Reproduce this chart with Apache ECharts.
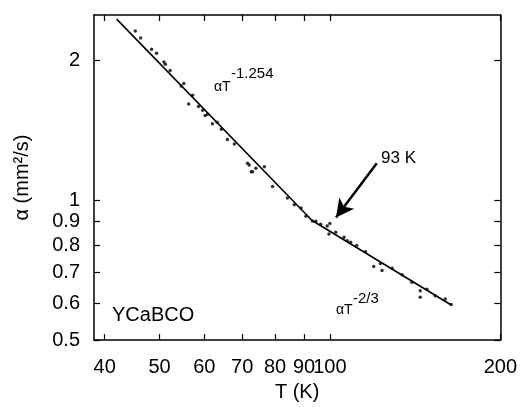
<!DOCTYPE html>
<html>
<head>
<meta charset="utf-8">
<script src="https://cdn.jsdelivr.net/npm/echarts@6/dist/echarts.min.js"></script>
<style>
  html, body { margin: 0; padding: 0; background: #fff; }
</style>
</head>
<body>
<div id="chart" style="width: 520px; height: 407px;"></div>
<script>
// tick values (log-log plot)
const xTicks = [40, 50, 60, 70, 80, 90, 100, 200];
const yTicks = [0.5, 0.6, 0.7, 0.8, 0.9, 1, 2];
const xRange = [38.3, 200];
const yRange = [0.5, 2.5];

// measured points, T (K) and diffusivity (mm2/s)
const tempK = [45.3, 46.3, 48.4, 49.4, 50.9, 51.2, 52.2, 54.6, 55.2, 56.3, 57.2, 58.6, 59.6, 60.2,
  60.8, 62.0, 63.2, 64.3, 65.9, 67.8, 71.5, 72.0, 72.6, 73.0, 74.0, 76.6, 79.2, 84.1, 86.5, 88.9,
  90.7, 93.1, 94.4, 96.3, 98.9, 99.6, 100.0, 102.4, 105.9, 107.3, 108.8, 111.5, 115.6, 119.5,
  122.8, 123.6, 128.8, 134.1, 139.6, 144.4, 144.4, 148.4, 153.5, 159.9, 163.8];
const alpha = [2.31, 2.23, 2.11, 2.07, 1.98, 1.96, 1.90, 1.76, 1.78, 1.61, 1.68, 1.59, 1.56, 1.52,
  1.53, 1.46, 1.47, 1.42, 1.35, 1.32, 1.20, 1.19, 1.15, 1.15, 1.17, 1.18, 1.07, 1.01, 0.977, 0.961,
  0.923, 0.902, 0.900, 0.887, 0.880, 0.845, 0.891, 0.853, 0.832, 0.818, 0.812, 0.799, 0.774, 0.720,
  0.731, 0.706, 0.714, 0.691, 0.666, 0.638, 0.618, 0.643, 0.623, 0.613, 0.596];

// power-law fits: T^-1.254 below 93 K, T^-2/3 above
const fitT = [42.0, 93, 163.8];
const fitAlpha = [2.45, 0.904, 0.595];

// arrow pointing at 93 K
const arrowFrom = [121, 1.20];
const arrowTo = [102.5, 0.917];

const lg = Math.log10;
const font = 'Liberation Sans, Arial, sans-serif';

const chart = echarts.init(document.getElementById('chart'));

const baseX = {
  type: 'value',
  min: lg(xRange[0]),
  max: lg(xRange[1]),
  axisLine: { onZero: false, lineStyle: { color: '#000', width: 1.5 } },
  axisTick: { inside: true, length: 6, customValues: xTicks.map(lg), lineStyle: { color: '#000', width: 1.2 } },
  splitLine: { show: false }
};
const baseY = {
  type: 'value',
  min: lg(yRange[0]),
  max: lg(yRange[1]),
  axisLine: { onZero: false, lineStyle: { color: '#000', width: 1.5 } },
  axisTick: { inside: true, length: 6, customValues: yTicks.map(lg), lineStyle: { color: '#000', width: 1.2 } },
  splitLine: { show: false }
};

chart.setOption({
  animation: false,
  grid: { left: 94, right: 18, top: 15, bottom: 58 },
  xAxis: [
    Object.assign({}, baseX, {
      position: 'bottom',
      name: 'T (K)',
      nameLocation: 'middle',
      nameGap: 36,
      nameTextStyle: { color: '#000', fontSize: 20, fontFamily: font },
      axisLabel: {
        customValues: xTicks.map(lg),
        margin: 17,
        color: '#000',
        fontSize: 20,
        fontFamily: font,
        formatter: v => String(Math.round(Math.pow(10, v)))
      }
    }),
    Object.assign({}, baseX, { position: 'top', axisLabel: { show: false } })
  ],
  yAxis: [
    Object.assign({}, baseY, {
      position: 'left',
      name: 'α (mm²/s)',
      nameLocation: 'middle',
      nameRotate: 90,
      nameGap: 62,
      nameTextStyle: { color: '#000', fontSize: 20, fontFamily: font },
      axisLabel: {
        customValues: yTicks.map(lg),
        margin: 14,
        color: '#000',
        fontSize: 20,
        fontFamily: font,
        formatter: v => String(+Math.pow(10, v).toFixed(1))
      }
    }),
    Object.assign({}, baseY, { position: 'right', axisLabel: { show: false } })
  ],
  series: [
    {
      type: 'scatter',
      symbolSize: 3.5,
      itemStyle: { color: '#000' },
      data: tempK.map((t, i) => [lg(t), lg(alpha[i])])
    },
    {
      type: 'line',
      symbol: 'none',
      lineStyle: { color: '#000', width: 1.6 },
      data: fitT.map((t, i) => [lg(t), lg(fitAlpha[i])]),
      markLine: {
        silent: true,
        symbol: ['none', 'arrow'],
        symbolSize: [14, 18],
        lineStyle: { color: '#000', width: 2.5, type: 'solid' },
        label: { show: false },
        data: [[
          { coord: [lg(arrowFrom[0]), lg(arrowFrom[1])] },
          { coord: [lg(arrowTo[0]), lg(arrowTo[1])] }
        ]]
      }
    }
  ],
  graphic: [
    { type: 'text', left: 214, top: 80, style: { text: 'αT', fontSize: 14, fontFamily: font, fill: '#000' } },
    { type: 'text', left: 231, top: 66, style: { text: '-1.254', fontSize: 15, fontFamily: font, fill: '#000' } },
    { type: 'text', left: 336, top: 303, style: { text: 'αT', fontSize: 14, fontFamily: font, fill: '#000' } },
    { type: 'text', left: 353, top: 291, style: { text: '-2/3', fontSize: 15, fontFamily: font, fill: '#000' } },
    { type: 'text', left: 381, top: 150, style: { text: '93 K', fontSize: 17, fontFamily: font, fill: '#000' } },
    { type: 'text', left: 112, top: 305, style: { text: 'YCaBCO', fontSize: 20, fontFamily: font, fill: '#000' } }
  ]
});
</script>
</body>
</html>
